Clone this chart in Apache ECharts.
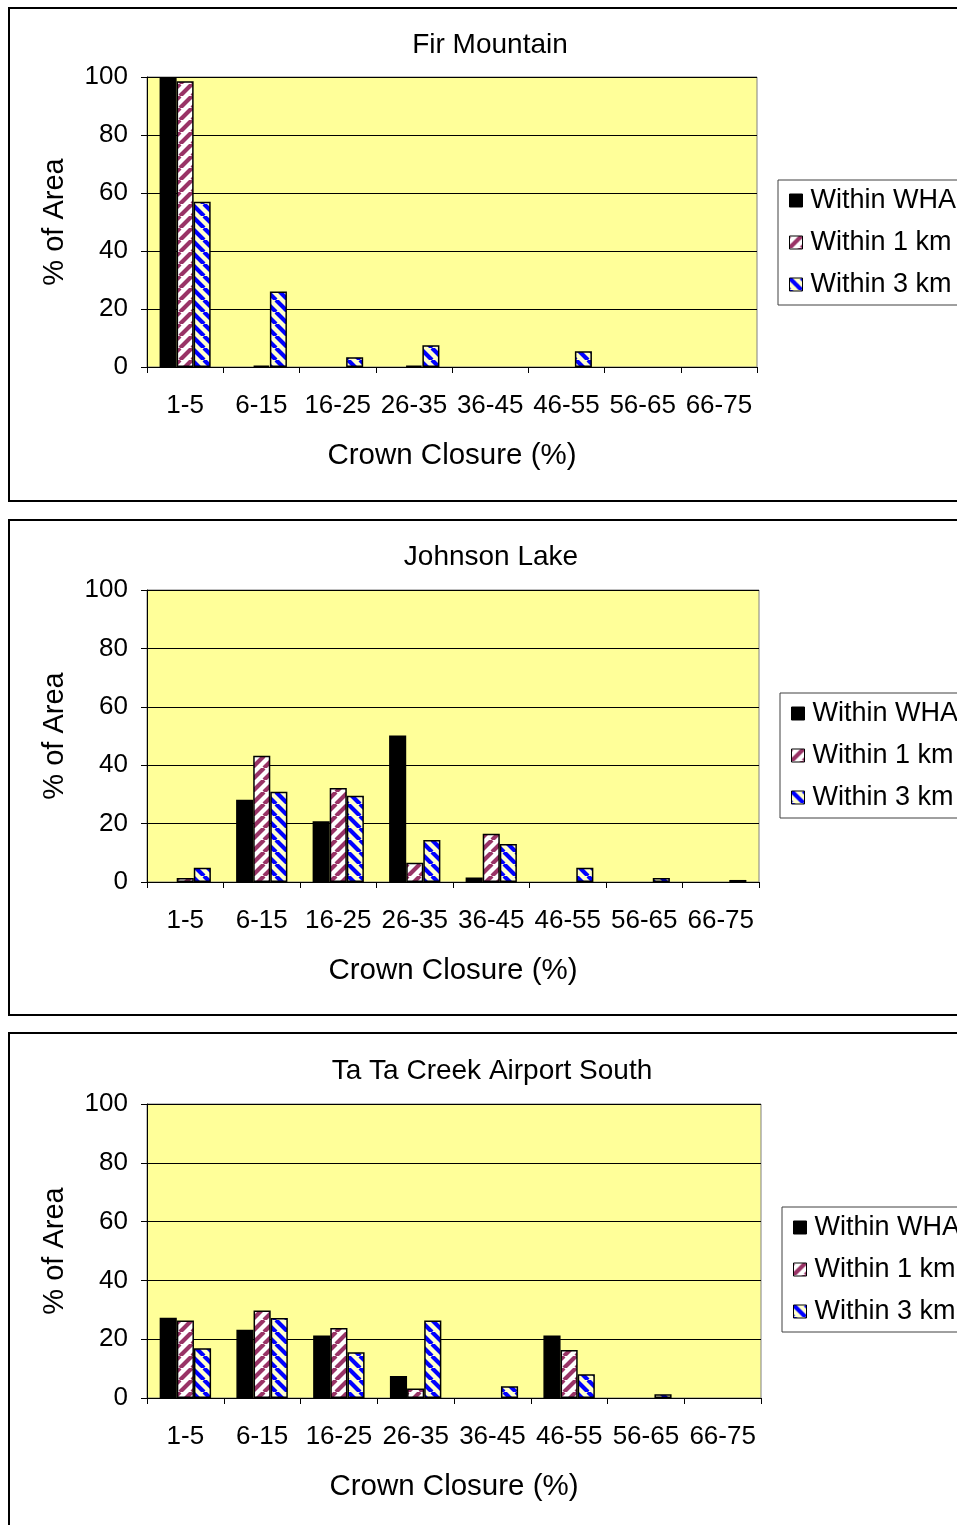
<!DOCTYPE html>
<html><head><meta charset="utf-8">
<script src="https://cdn.jsdelivr.net/npm/echarts@6/dist/echarts.min.js"></script>
<style>html,body{margin:0;padding:0;background:#fff}#c{width:957px;height:1525px}</style>
</head><body><div id="c"></div>
<script>
const categories = ['1-5','6-15','16-25','26-35','36-45','46-55','56-65','66-75'];
const seriesNames = ['Within WHA','Within 1 km','Within 3 km'];
const chartTitles = ['Fir Mountain','Johnson Lake','Ta Ta Creek Airport South'];
const xAxisTitle = 'Crown Closure (%)';
const yAxisTitle = '% of Area';
const yTicks = [0,20,40,60,80,100];

const firWHA  = [100, 0, 0, 0, 0, 0, 0, 0];
const fir1km  = [98.5, 0.5, 0, 0.5, 0, 0, 0, 0];
const fir3km  = [57, 26, 3.4, 7.5, 0, 5.4, 0, 0];

const johnWHA = [0, 28.2, 20.8, 50.2, 1.5, 0, 0, 0];
const john1km = [1.4, 43.2, 32.2, 6.6, 16.5, 0, 0, 0];
const john3km = [4.9, 30.9, 29.5, 14.4, 13, 4.9, 1.4, 0.7];

const tataWHA = [27.3, 23.2, 21.3, 7.5, 0, 21.3, 0, 0];
const tata1km = [26.4, 29.8, 23.8, 3.2, 0, 16.3, 0, 0];
const tata3km = [16.9, 27.2, 15.6, 26.4, 4, 8.1, 1.25, 0];

const chartData = [[firWHA, fir1km, fir3km],[johnWHA, john1km, john3km],[tataWHA, tata1km, tata3km]];

function stripes(fg, bg, dir){
  const n = 12;
  const c = document.createElement('canvas'); c.width = n; c.height = n;
  const g = c.getContext('2d');
  g.fillStyle = bg; g.fillRect(0,0,n,n);
  g.strokeStyle = fg; g.lineWidth = 4.2; g.beginPath();
  for (let k=-1;k<=1;k++){
    if (dir === '/') { g.moveTo(k*n, n); g.lineTo(k*n+n, 0); }
    else { g.moveTo(k*n, 0); g.lineTo(k*n+n, n); }
  }
  g.stroke();
  return c;
}
const fills = [
  '#000000',
  {image: stripes('#993366', '#ffffff', '/'), repeat: 'repeat'},
  {image: stripes('#0000ff', '#ffffcc', '\\'), repeat: 'repeat'}
];

const FONT = "'Liberation Sans', Arial, sans-serif";
const layout = [
  {grid:{left:147, top:77, width:610, height:290}, panel:[9,8,1000,493], title:[490,45], legend:[778,180]},
  {grid:{left:147, top:590, width:612, height:292}, panel:[9,520,1000,495], title:[491,557], legend:[780,693]},
  {grid:{left:147, top:1104, width:614, height:294}, panel:[9,1033,1000,500], title:[492,1071], legend:[782,1207]}
];

const grids = [], xAxes = [], yAxes = [], series = [], legends = [], graphics = [];
layout.forEach((L, i) => {
  grids.push(Object.assign({show:true, backgroundColor:'#ffff99', borderColor:'#808080', borderWidth:1}, L.grid));
  xAxes.push({type:'category', gridIndex:i, data:categories, boundaryGap:true,
    axisLine:{lineStyle:{color:'#000', width:1}},
    axisTick:{show:true, length:6, lineStyle:{color:'#000'}},
    axisLabel:{fontSize:26, fontFamily:FONT, color:'#000', margin:26, interval:0},
    splitLine:{show:false}});
  yAxes.push({type:'value', gridIndex:i, min:yTicks[0], max:yTicks[yTicks.length-1], interval:yTicks[1]-yTicks[0],
    axisLine:{show:true, lineStyle:{color:'#000', width:1}},
    axisTick:{show:true, length:6, lineStyle:{color:'#000'}},
    axisLabel:{fontSize:26, fontFamily:FONT, color:'#000', margin:19},
    splitLine:{show:true, lineStyle:{color:'#000', width:1}}});
  seriesNames.forEach((nm, s) => {
    series.push({type:'bar', name:nm, xAxisIndex:i, yAxisIndex:i,
      data:chartData[i][s].map(v => v === 0 ? null : v),
      barGap:'0%', barCategoryGap:'33%', animation:false,
      itemStyle:{color:fills[s], borderColor:'#000', borderWidth:1.5}});
  });
  legends.push({orient:'vertical', left:L.legend[0], top:L.legend[1], data:seriesNames,
    padding:[7,40,7,11], itemWidth:13, itemHeight:13, itemGap:15, icon:'rect',
    borderColor:'#404040', borderWidth:1, backgroundColor:'#fff', selectedMode:false,
    itemStyle:{borderColor:'#000', borderWidth:1},
    textStyle:{fontSize:27, fontFamily:FONT, color:'#000', lineHeight:27, padding:[0,0,0,3]}});
  graphics.push({type:'rect', shape:{x:L.panel[0], y:L.panel[1], width:L.panel[2], height:L.panel[3]},
    style:{fill:'none', stroke:'#000', lineWidth:2}, silent:true, z:-10});
  graphics.push({type:'text', x:L.title[0], y:L.title[1],
    style:{text:chartTitles[i], fontSize:28, fontFamily:FONT, fill:'#000', textAlign:'center', textVerticalAlign:'middle'}});
  const g = L.grid;
  graphics.push({type:'text', x:g.left + g.width/2, y:g.top + g.height + 89,
    style:{text:xAxisTitle, fontSize:29.5, fontFamily:FONT, fill:'#000', textAlign:'center', textVerticalAlign:'middle'}});
  graphics.push({type:'text', x:55, y:g.top + g.height/2, rotation:Math.PI/2,
    style:{text:yAxisTitle, fontSize:29, fontFamily:FONT, fill:'#000', textAlign:'center', textVerticalAlign:'middle'}});
});

const chart = echarts.init(document.getElementById('c'));
chart.setOption({animation:false, backgroundColor:'#fff', grid:grids, xAxis:xAxes, yAxis:yAxes,
  series:series, legend:legends, graphic:graphics});
</script></body></html>
